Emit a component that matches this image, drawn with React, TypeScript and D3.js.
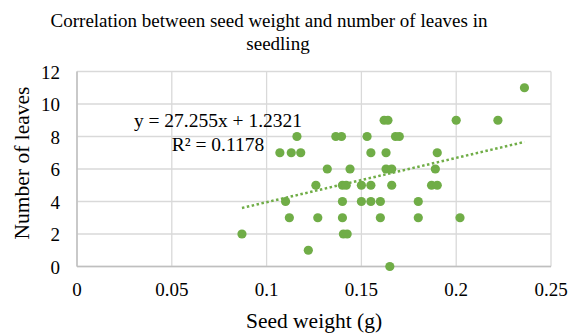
import * as d3 from 'd3';

const seedWeight = [
  0.087, 0.107, 0.113, 0.118, 0.116, 0.132, 0.126, 0.11, 0.112, 0.127, 0.122,
  0.1365, 0.1395, 0.162, 0.164, 0.153, 0.168, 0.17, 0.155, 0.163, 0.19, 0.144,
  0.163, 0.166, 0.189, 0.14, 0.142, 0.15, 0.155, 0.166, 0.187, 0.19, 0.14,
  0.15, 0.155, 0.16, 0.18, 0.14, 0.16, 0.18, 0.1405, 0.1425, 0.165, 0.236,
  0.2, 0.222, 0.202,
];
const leafCount = [
  2, 7, 7, 7, 8, 6, 5, 4, 3, 3, 1, 8, 8, 9, 9, 8, 8, 8, 7, 7, 7, 6, 6, 6, 6, 5,
  5, 5, 5, 5, 5, 5, 4, 4, 4, 4, 4, 3, 3, 3, 2, 2, 0, 11, 9, 9, 3,
];
const xTicks = [0, 0.05, 0.1, 0.15, 0.2, 0.25];
const yTicks = [0, 2, 4, 6, 8, 10, 12];
const titleLines = ['Correlation between seed weight and number of leaves in', 'seedling'];
const slope = 27.255;
const intercept = 1.2321;
const equationLines = ['y = 27.255x + 1.2321', 'R² = 0.1178'];

const WIDTH = 578;
const HEIGHT = 334;
const FONT = "'Liberation Serif'";
const GREEN = '#70ad47';

export default function App() {
  const x = d3.scaleLinear().domain([0, 0.25]).range([77, 551]);
  const y = d3.scaleLinear().domain([0, 12]).range([266.5, 71.5]);

  const points = seedWeight.map((w, i) => ({ w, n: leafCount[i] }));
  const [minW, maxW] = d3.extent(seedWeight) as [number, number];
  const trend = d3
    .line<number>()
    .x((w) => x(w))
    .y((w) => y(slope * w + intercept));

  const txt = { fontFamily: FONT, fill: '#000' };

  return (
    <svg
      width={WIDTH}
      height={HEIGHT}
      style={{ position: 'absolute', left: 0, top: 0, background: '#fff', fontFamily: FONT }}
    >
      {/* gridlines */}
      {yTicks.map((t) => (
        <line key={'gy' + t} x1={x(0)} x2={x(0.25)} y1={y(t)} y2={y(t)} stroke="#d9d9d9" strokeWidth={1.3} />
      ))}
      {xTicks.map((t) => (
        <line key={'gx' + t} x1={x(t)} x2={x(t)} y1={y(0)} y2={y(12)} stroke="#d9d9d9" strokeWidth={1.3} />
      ))}
      {/* axes */}
      <line x1={x(0)} x2={x(0.25)} y1={y(0)} y2={y(0)} stroke="#bfbfbf" strokeWidth={1.5} />
      <line x1={x(0)} x2={x(0)} y1={y(0)} y2={y(12)} stroke="#bfbfbf" strokeWidth={1.5} />

      {/* tick labels */}
      {xTicks.map((t) => (
        <text key={'tx' + t} x={x(t)} y={296} textAnchor="middle" fontSize={19} style={txt}>
          {t}
        </text>
      ))}
      {yTicks.map((t) => (
        <text key={'ty' + t} x={60} y={y(t) + 7} textAnchor="end" fontSize={19} style={txt}>
          {t}
        </text>
      ))}

      {/* trendline */}
      <path
        d={trend([minW, maxW]) ?? ''}
        fill="none"
        stroke={GREEN}
        strokeWidth={2.5}
        strokeDasharray="2.5 2.5"
      />

      {/* points */}
      {points.map((p, i) => (
        <circle key={i} cx={x(p.w)} cy={y(p.n)} r={4.6} fill={GREEN} />
      ))}

      {/* equation */}
      {equationLines.map((line, i) => (
        <text key={line} x={218} y={127 + i * 24} textAnchor="middle" fontSize={19.5} style={txt}>
          {line}
        </text>
      ))}

      {/* title */}
      <text x={269} y={27} textAnchor="middle" fontSize={19} style={txt}>
        {titleLines[0]}
      </text>
      <text x={278} y={50} textAnchor="middle" fontSize={19} style={txt}>
        {titleLines[1]}
      </text>

      {/* axis titles */}
      <text x={314} y={328} textAnchor="middle" fontSize={21.5} style={txt}>
        Seed weight (g)
      </text>
      <text
        transform={`translate(29,${163}) rotate(-90)`}
        textAnchor="middle"
        fontSize={21.5}
        style={txt}
      >
        Number of leaves
      </text>
    </svg>
  );
}
